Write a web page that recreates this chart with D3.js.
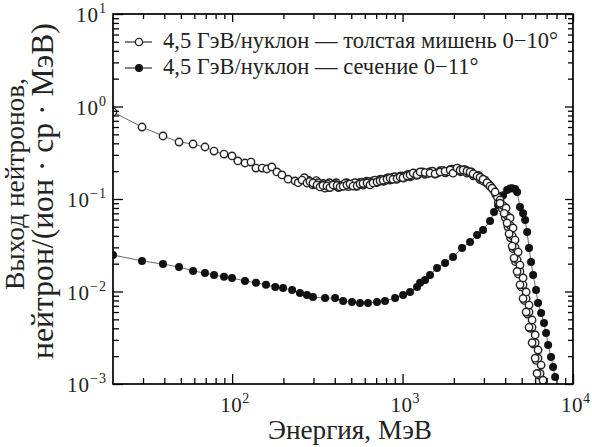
<!DOCTYPE html>
<html><head><meta charset="utf-8">
<script src="https://cdn.jsdelivr.net/npm/d3@7"></script>
<style>
html,body{margin:0;padding:0;background:#fff;}
svg{display:block;font-family:"Liberation Serif","DejaVu Serif",serif;}
</style></head>
<body><svg id="chart" width="592" height="447"></svg>
<script>
// ---- data ----
// thick target 0-10° (open circles), main trace
const thickEnergy = [20,29.6,39.3,48.8,59,69.3,78.3,89.6,99.8,108,119,129,138,150,160,171,183,196,213,234,244,257,275,286,298,315,328,341,360,375,391,413,430,448,472,492,512,541,563,586,619,644,671,708,738,769,811,845,879,928,967,1007,1063,1107,1153,1216,1267,1355,1449,1552,1660,1775,1901,1978,2089,2175,2265,2389,2489,2594,2737,2851,2967,3133,3261,3350,3491,3733,
  3733,4050,3945,4276,4104,4448,4217,4571,4395,4764,4510,4887,4699,5093,4887,5309,5093,5521,5309,5754,5521,5998,5754,6237,5998,6501,6152,6668];
const thickYield = [0.872,0.600,0.480,0.413,0.393,0.365,0.330,0.306,0.292,0.258,0.245,0.251,0.216,0.216,0.211,0.222,0.196,0.182,0.164,0.157,0.150,0.160,0.149,0.155,0.149,0.142,0.135,0.140,0.138,0.133,0.142,0.140,0.135,0.137,0.142,0.145,0.138,0.139,0.145,0.147,0.149,0.142,0.149,0.153,0.157,0.159,0.164,0.168,0.164,0.167,0.173,0.170,0.177,0.182,0.191,0.183,0.196,0.193,0.191,0.187,0.196,0.200,0.206,0.190,0.216,0.205,0.206,0.201,0.196,0.187,0.177,0.172,0.164,0.150,0.138,0.131,0.119,0.0975,
  0.090,0.080,0.070,0.0624,0.055,0.0486,0.042,0.0360,0.031,0.0267,0.023,0.0193,0.0165,0.0140,0.0118,0.00988,0.0084,0.00714,0.0060,0.00492,0.0041,0.00339,0.0028,0.00233,0.0019,0.00160,0.0013,0.00110];
// thick target 0-10°, additional overlapping points in the dense part
const thickExtraEnergy = [265,290,305,320,335,350,365,380,400,420,440,460,480,500,525,550,575,600,630,660,690,720,755,790,825,860,900,945,990,1035,1085,1130,1185,1240,1310,1400,1500,1600,1720,1840,1950,2040,2140,2220,2330,2440,2540,2660,2790,2900,3050,3200,3300,3420,3600,
  3890,4104,4276,4395,4571,4699,4887,5093,5309,5521,5754,5998,6237,6412];
const thickExtraYield = [0.170,0.152,0.145,0.150,0.143,0.131,0.144,0.136,0.146,0.133,0.141,0.148,0.136,0.143,0.150,0.142,0.152,0.146,0.155,0.150,0.160,0.154,0.163,0.158,0.170,0.162,0.174,0.168,0.178,0.172,0.184,0.178,0.188,0.184,0.196,0.188,0.200,0.190,0.204,0.196,0.210,0.200,0.212,0.200,0.208,0.193,0.196,0.182,0.180,0.166,0.160,0.145,0.136,0.125,0.105,
  0.085,0.066,0.052,0.040,0.030,0.022,0.0165,0.0118,0.0084,0.0060,0.0041,0.0028,0.0019,0.0013];
const thickBackEnergy = [280,297,312,327,343,358,372,388,408,428,452,470,490,515,538,562,588,615,645,675,705,740,772,808,842,880,922,968,1012,1060,1108,1160,1210,1275,1355,1450,1550,1660,1780,1900,2000,2100,2190,2280,2390,2490,2600,2720,2850,2980,3120,3250,3380,3520,
  3650,3850,4000,4150,4300,4450,4600,4780,4980,5180,5400,5620,5860,6100,6300];
const thickBackYield = [0.160,0.142,0.158,0.140,0.147,0.133,0.150,0.139,0.150,0.137,0.143,0.150,0.139,0.147,0.137,0.151,0.141,0.156,0.146,0.158,0.150,0.164,0.155,0.168,0.160,0.172,0.163,0.177,0.168,0.182,0.174,0.188,0.180,0.192,0.185,0.198,0.186,0.202,0.192,0.208,0.197,0.210,0.197,0.206,0.190,0.193,0.178,0.178,0.162,0.156,0.148,0.140,0.128,0.112,
  0.092,0.078,0.063,0.050,0.038,0.029,0.021,0.0155,0.0112,0.0080,0.0057,0.0040,0.0027,0.0018,0.00125];

// cross section 0-11° (filled circles)
const sectEnergy = [20,29.6,39.3,48.8,59,69.3,78.3,89.6,99.8,119,138,158,179,199,225,250,275,298,351,402,448,505,563,627,708,789,904,1007,1107,1216,1267,1355,1449,1593,1775,1978,2234,2489,2737,2967,3261,3443,3631,3890,4104,4276,4395,4571,4699,4887,5093,5236,5383,5521,5675,5834,6070,6237,6501,6761,6950,7145,7430,7638,7852];
const sectYield = [0.0248,0.0214,0.0198,0.0184,0.0167,0.0158,0.0151,0.0144,0.0140,0.0130,0.0124,0.0118,0.0112,0.0109,0.0104,0.00964,0.00917,0.00873,0.00851,0.00851,0.00789,0.00769,0.00751,0.00751,0.00769,0.00789,0.00851,0.00917,0.00988,0.0112,0.0124,0.0133,0.0151,0.0180,0.0203,0.0236,0.0295,0.0343,0.0408,0.0462,0.0578,0.0723,0.0861,0.110,0.125,0.130,0.131,0.128,0.119,0.0820,0.070,0.0593,0.0440,0.0295,0.0208,0.0151,0.0104,0.00751,0.00586,0.00456,0.00356,0.00264,0.00196,0.00153,0.00119];

const xMajorTicks = [100,1000,10000];
const xTickExponents = ["2","3","4"];
const yMajorTicks = [1e-3,1e-2,1e-1,1,10];
const yTickExponents = ["\u22123","\u22122","\u22121","0","1"];
const xMinorTicks = [30,40,50,60,70,80,90,200,300,400,500,600,700,800,900,2000,3000,4000,5000,6000,7000,8000,9000];
const yMinorTicks = [];
[1e-3,1e-2,1e-1,1].forEach(d=>{for(let k=2;k<=9;k++) yMinorTicks.push(d*k);});

const legendLabels = ["4,5 ГэВ/нуклон — толстая мишень 0\u221210°","4,5 ГэВ/нуклон — сечение 0\u221211°"];
const xTitle = "Энергия, МэВ";
const yTitleLines = ["Выход нейтронов,","нейтрон/(ион · ср · МэВ)"];

// ---- layout ----
const W=592,H=447, L=113, T=14, R=573, B=384;
const svg = d3.select("#chart");
const x = d3.scaleLog().domain([20,10000]).range([L,R]);
const y = d3.scaleLog().domain([1e-3,10]).range([B,T]);

function fit(sel, target){
  const w = sel.node().getComputedTextLength();
  const fs = parseFloat(sel.attr("font-size"));
  sel.attr("font-size", (fs*target/w).toFixed(2));
  return fs*target/w;
}

svg.append("defs").append("clipPath").attr("id","clip").append("rect")
  .attr("x",L).attr("y",T).attr("width",R-L).attr("height",B-T);

const plot = svg.append("g").attr("clip-path","url(#clip)");
const line = d3.line().x(d=>x(d[0])).y(d=>y(d[1]));
const thick = thickEnergy.map((e,i)=>[e,thickYield[i]]);
const thickExtra = thickExtraEnergy.map((e,i)=>[e,thickExtraYield[i]]);
const thickBack = thickBackEnergy.map((e,i)=>[e,thickBackYield[i]]);
const sect = sectEnergy.map((e,i)=>[e,sectYield[i]]);

plot.append("path").datum(sect).attr("d",line).attr("fill","none").attr("stroke","#555").attr("stroke-width",0.9);
plot.append("path").datum(thick).attr("d",line).attr("fill","none").attr("stroke","#555").attr("stroke-width",0.9);

plot.selectAll("circle.s").data(sect).join("circle").attr("class","s")
  .attr("cx",d=>x(d[0])).attr("cy",d=>y(d[1])).attr("r",4).attr("fill","#111");
[["tb",thickBack],["te",thickExtra],["t",thick]].forEach(([cls,data])=>{
  plot.selectAll("circle."+cls).data(data).join("circle").attr("class",cls)
    .attr("cx",d=>x(d[0])).attr("cy",d=>y(d[1])).attr("r",3.7)
    .attr("fill","#fff").attr("stroke","#222").attr("stroke-width",1.4);
});

// axes
function styleAxis(g){
  g.select(".domain").remove();
  g.selectAll(".tick line").attr("stroke","#000").attr("stroke-width",1.3);
  g.selectAll(".tick text").remove();
}
svg.append("g").attr("transform",`translate(0,${B})`).call(d3.axisBottom(x).tickValues(xMajorTicks).tickSize(-10).tickFormat("")).call(styleAxis);
svg.append("g").attr("transform",`translate(0,${B})`).call(d3.axisBottom(x).tickValues(xMinorTicks).tickSize(-6).tickFormat("")).call(styleAxis);
svg.append("g").attr("transform",`translate(0,${T})`).call(d3.axisTop(x).tickValues(xMajorTicks).tickSize(-8).tickFormat("")).call(styleAxis);
svg.append("g").attr("transform",`translate(0,${T})`).call(d3.axisTop(x).tickValues(xMinorTicks).tickSize(-5).tickFormat("")).call(styleAxis);
svg.append("g").attr("transform",`translate(${L},0)`).call(d3.axisLeft(y).tickValues(yMajorTicks).tickSize(-10).tickFormat("")).call(styleAxis);
svg.append("g").attr("transform",`translate(${L},0)`).call(d3.axisLeft(y).tickValues(yMinorTicks).tickSize(-6).tickFormat("")).call(styleAxis);
svg.append("g").attr("transform",`translate(${R},0)`).call(d3.axisRight(y).tickValues(yMajorTicks).tickSize(-8).tickFormat("")).call(styleAxis);
svg.append("g").attr("transform",`translate(${R},0)`).call(d3.axisRight(y).tickValues(yMinorTicks).tickSize(-5).tickFormat("")).call(styleAxis);

svg.append("rect").attr("x",L).attr("y",T).attr("width",R-L).attr("height",B-T)
  .attr("fill","none").attr("stroke","#000").attr("stroke-width",1.7);

// tick labels
xMajorTicks.forEach((v,i)=>{
  const t = svg.append("text").attr("x",x(v)-12).attr("y",412).attr("text-anchor","start")
    .attr("font-size",21).attr("fill","#222").attr("letter-spacing",0.5);
  t.append("tspan").text("10");
  t.append("tspan").attr("font-size",14).attr("dy",-9).text(xTickExponents[i]);
});
yMajorTicks.forEach((v,i)=>{
  const t = svg.append("text").attr("x",107).attr("y",y(v)+8).attr("text-anchor","end")
    .attr("font-size",21).attr("fill","#222").attr("letter-spacing",1);
  t.append("tspan").text("10");
  t.append("tspan").attr("font-size",14).attr("dy",-9).text(yTickExponents[i]);
});

// titles
const xt = svg.append("text").attr("x",268).attr("y",439).attr("text-anchor","start")
  .attr("font-size",22).attr("fill","#222").text(xTitle);
fit(xt,164);
const yt1 = svg.append("text").attr("transform","translate(24,184) rotate(-90)").attr("text-anchor","middle")
  .attr("font-size",20).attr("fill","#222").text(yTitleLines[0]);
fit(yt1,212);
const yt2 = svg.append("text").attr("transform","translate(53,191) rotate(-90)").attr("text-anchor","middle")
  .attr("font-size",20).attr("fill","#222").text(yTitleLines[1]);
fit(yt2,336);

// legend
const legY = [42,68];
let legFs = null;
legendLabels.forEach((lab,i)=>{
  const g = svg.append("g");
  g.append("line").attr("x1",125).attr("x2",152).attr("y1",legY[i]).attr("y2",legY[i]).attr("stroke","#333").attr("stroke-width",1.2);
  if(i===0) g.append("circle").attr("cx",139).attr("cy",legY[i]).attr("r",3.6).attr("fill","#fff").attr("stroke","#222").attr("stroke-width",1.3);
  else g.append("circle").attr("cx",139).attr("cy",legY[i]).attr("r",4).attr("fill","#111");
  const t = g.append("text").attr("x",163).attr("y",legY[i]+6).attr("font-size",legFs||18).attr("fill","#222").text(lab);
  if(i===0) legFs = fit(t,395);
});
</script></body></html>
